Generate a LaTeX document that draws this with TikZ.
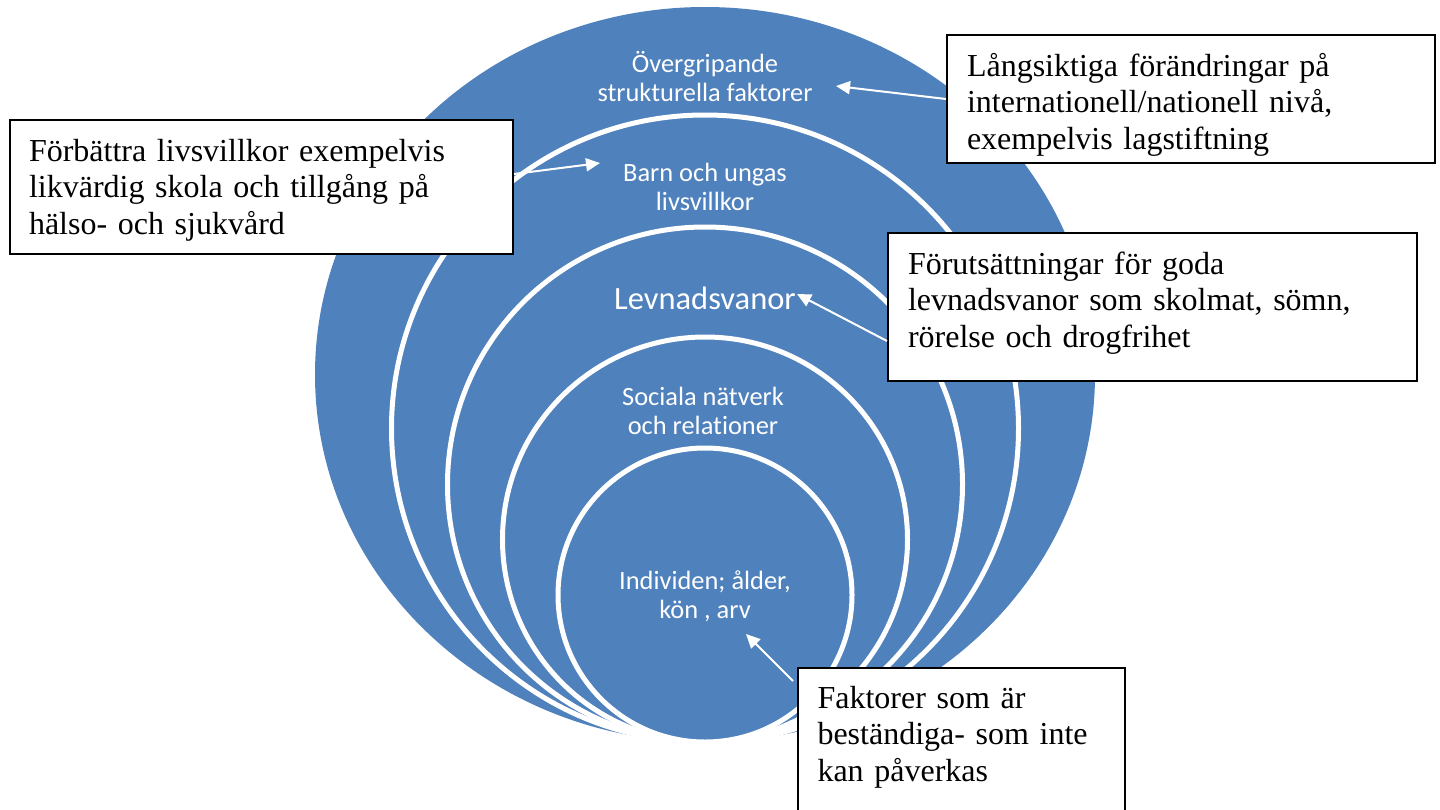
\documentclass[tikz,border=0pt]{standalone}
\usepackage{fontspec}
\setmainfont{Liberation Serif}
\newfontfamily\calibri[Ligatures={NoCommon}]{Carlito}
\usetikzlibrary{arrows.meta,calc}
\definecolor{ringblue}{HTML}{4F81BD}
\begin{document}
\begin{tikzpicture}[x=0.5pt,y=-0.5pt,
  ring/.style={fill=ringblue,draw=white,line width=2.5pt},
  ringtext/.style={text=white,font=\calibri\fontsize{13.2pt}{14.5pt}\selectfont,align=center,inner sep=0pt},
  notebox/.style={draw=black,line width=1pt,fill=white,font=\fontsize{16pt}{18.4pt}\selectfont,align=left,anchor=north west,inner xsep=9.5pt,inner ysep=9.5pt,text height=11pt},
  pointer/.style={draw=white,line width=1pt,-{Triangle[length=7pt,width=6.5pt]}}
]
\useasboundingbox (0,0) rectangle (1440,809);
% nested rings
\fill[ringblue] (705,374.5) ellipse [x radius=390, y radius=367.5];
\draw[ring] (705,428.5) circle [radius=313.5];
\draw[ring] (705,484.5) circle [radius=257.5];
\draw[ring] (705,539.5) circle [radius=202.5];
\draw[ring] (705,595) circle [radius=147];
% ring labels
\node[ringtext] (t1) at (705,77) {Övergripande\\strukturella faktorer};
\node[ringtext] (t2) at (705,186.5) {Barn och ungas\\livsvillkor};
\node[ringtext,font=\calibri\fontsize{16.25pt}{18pt}\selectfont] (t3) at (705,298) {Levnadsvanor};
\node[ringtext] (t4) at (703,410.5) {Sociala nätverk\\och relationer};
\node[ringtext] (t5) at (705,596.5) {Individen; ålder,\\kön , arv};
% note boxes
\node[notebox,minimum width=251.5pt,text width=232.5pt,text depth=37pt] (boxA) at (9,119)
  {Förbättra livsvillkor exempelvis\\likvärdig skola och tillgång på\\hälso- och sjukvård};
\node[notebox,minimum width=244pt,text width=224pt,inner xsep=10pt,text depth=34pt] (boxB) at (946,34)
  {Långsiktiga förändringar på\\internationell/nationell nivå,\\exempelvis lagstiftning};
\node[notebox,minimum width=264.5pt,text width=244.5pt,text depth=44pt] (boxC) at (887,232)
  {Förutsättningar för goda\\levnadsvanor som skolmat, sömn,\\rörelse och drogfrihet};
\node[notebox,minimum width=163.5pt,text width=144pt,inner ysep=9pt,text depth=68pt] (boxD) at (797,667)
  {Faktorer som är\\beständiga- som inte\\kan påverkas};
% pointers
\coordinate (pA) at (600,163);
\coordinate (pB) at (836,86);
\coordinate (pC) at (797,294);
\coordinate (pD) at (746,634);
\draw[pointer] ([yshift=6.5pt]boxA.east) -- (pA);
\draw[pointer] (boxB.west) -- (pB);
\draw[pointer] ([yshift=-17pt]boxC.west) -- (pC);
\draw[pointer] ([xshift=-2pt,yshift=-7pt]boxD.north west) -- (pD);
\end{tikzpicture}
\end{document}
